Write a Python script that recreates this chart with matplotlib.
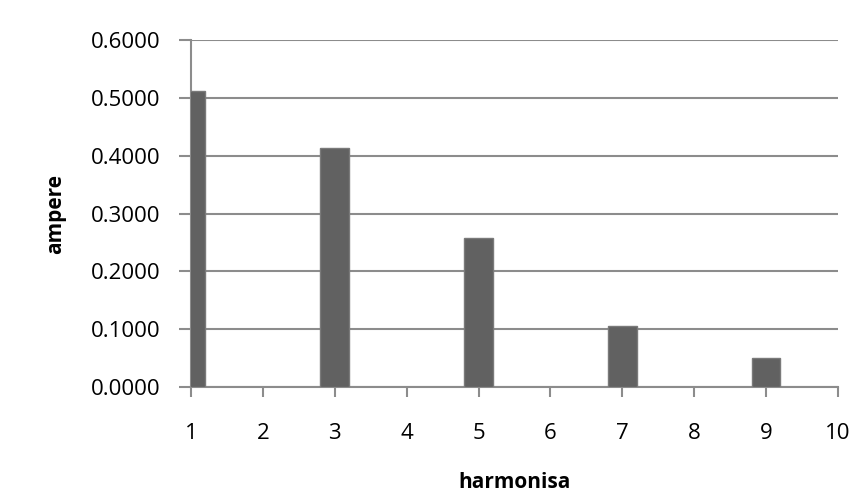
import matplotlib.pyplot as plt

harmonisa = [1, 3, 5, 7, 9]
ampere = [0.5120, 0.4135, 0.2575, 0.1055, 0.0500]
x_ticks = list(range(1, 11))
y_ticks = [0.0, 0.1, 0.2, 0.3, 0.4, 0.5, 0.6]

plt.rcParams['font.family'] = ['Open Sans', 'DejaVu Sans']

fig = plt.figure(figsize=(8.65, 4.92), dpi=100)
ax = fig.add_axes([191 / 865, 1 - 387 / 492, (838 - 191) / 865, (387 - 40) / 492])

grid_c = '#8c8c8c'
ax.bar(harmonisa, ampere, width=0.4, color='#616161', edgecolor='#7a7a7a', linewidth=1, zorder=3)

ax.set_xlim(1, 10)
ax.set_ylim(0, 0.6)
ax.set_xticks(x_ticks)
ax.set_yticks(y_ticks)
ax.set_yticklabels(['%.4f' % v for v in y_ticks])
ax.yaxis.grid(True, color=grid_c, linewidth=1.5, zorder=1)
ax.set_axisbelow(True)

for s in ['top', 'right']:
    ax.spines[s].set_visible(False)
for s in ['left', 'bottom']:
    ax.spines[s].set_color(grid_c)
    ax.spines[s].set_linewidth(1.5)

ax.tick_params(axis='x', direction='out', length=7, width=1.5, color=grid_c, labelsize=16, pad=19)
ax.tick_params(axis='y', direction='out', length=9, width=1.5, color=grid_c, labelsize=16, pad=13)

ax.set_xlabel('harmonisa', fontsize=15, fontweight='bold', labelpad=20)
ax.set_ylabel('ampere', fontsize=15, fontweight='bold', labelpad=18)

fig.savefig('out.png', dpi=100, facecolor='white')
